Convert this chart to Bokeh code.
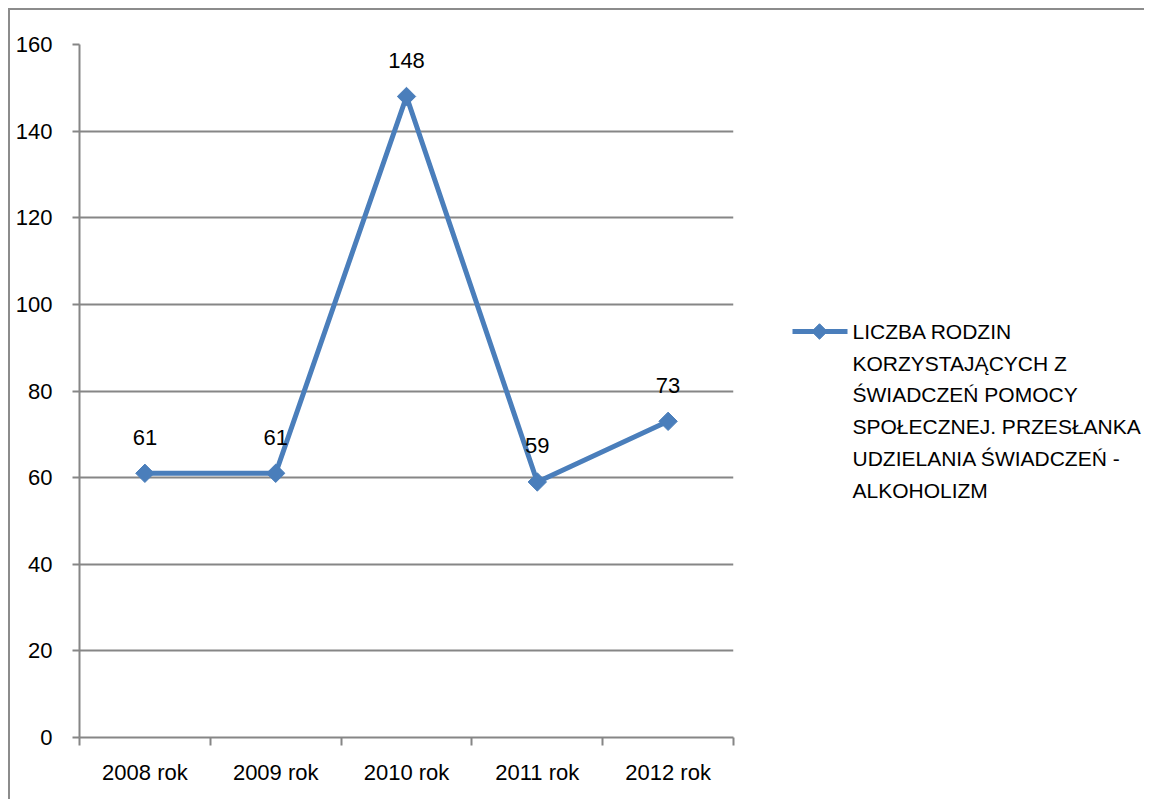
import numpy as np
from bokeh.plotting import figure
from bokeh.layouts import row
from bokeh.models import ColumnDataSource, FixedTicker, LabelSet, Range1d
from bokeh.core.properties import value
from bokeh.embed import file_html
from bokeh.resources import INLINE

years = ["2008 rok", "2009 rok", "2010 rok", "2011 rok", "2012 rok"]
families = [61, 61, 148, 59, 73]
y_ticks = [0, 20, 40, 60, 80, 100, 120, 140, 160]
series_lines = ["LICZBA RODZIN", "KORZYSTAJĄCYCH Z", "ŚWIADCZEŃ POMOCY",
                "SPOŁECZNEJ. PRZESŁANKA", "UDZIELANIA ŚWIADCZEŃ -", "ALKOHOLIZM"]

FONT = "Liberation Sans"
BLUE = "#4A7EBB"
GRAY = "#868686"
H = 789
TOP, BOTTOM = 34, 62

xpos = np.arange(len(years)) + 0.5
src = ColumnDataSource(dict(x=xpos, y=families, lbl=[str(v) for v in families]))

p = figure(width=725, height=H, output_backend="svg", toolbar_location=None,
           x_range=Range1d(0, len(years)), y_range=Range1d(0, 160),
           min_border_left=69, min_border_right=2, min_border_top=TOP, min_border_bottom=BOTTOM)
p.outline_line_color = None

p.xaxis.ticker = FixedTicker(ticks=list(xpos), minor_ticks=list(range(len(years) + 1)))
p.xaxis.major_label_overrides = {float(x): t for x, t in zip(xpos, years)}
p.xaxis.major_tick_in = 0
p.xaxis.major_tick_out = 0
p.xaxis.minor_tick_in = 0
p.xaxis.minor_tick_out = 8
p.xaxis.minor_tick_line_color = GRAY
p.xaxis.minor_tick_line_width = 2
p.xaxis.axis_line_color = GRAY
p.xaxis.axis_line_width = 2
p.xaxis.major_label_standoff = 14

p.yaxis.ticker = FixedTicker(ticks=y_ticks, minor_ticks=[])
p.yaxis.major_tick_in = 0
p.yaxis.major_tick_out = 7
p.yaxis.major_tick_line_color = GRAY
p.yaxis.major_tick_line_width = 2
p.yaxis.axis_line_color = GRAY
p.yaxis.axis_line_width = 2
p.yaxis.major_label_standoff = 20

for ax in (p.xaxis, p.yaxis):
    ax.major_label_text_font = FONT
    ax.major_label_text_font_size = "22px"
    ax.major_label_text_color = "black"

p.xgrid.visible = False
p.ygrid.ticker = FixedTicker(ticks=y_ticks)
p.ygrid.grid_line_color = GRAY
p.ygrid.grid_line_width = 2

p.line("x", "y", source=src, line_color=BLUE, line_width=5)
p.scatter("x", "y", source=src, marker="square", angle=np.pi / 4, size=13,
          fill_color=BLUE, line_color=BLUE)

p.add_layout(LabelSet(x="x", y="y", text="lbl", source=src, y_offset=36,
                      text_align="center", text_baseline="middle",
                      text_font=value(FONT), text_font_size="22px", text_color="black"))

# legend panel (canvas pixel coordinates, top-down)
LW = 1134 - 725
leg = figure(width=LW, height=H, output_backend="svg", toolbar_location=None,
             x_range=Range1d(0, LW), y_range=Range1d(H - BOTTOM, TOP),
             x_axis_type=None, y_axis_type=None,
             min_border_left=0, min_border_right=0, min_border_top=TOP, min_border_bottom=BOTTOM)
leg.outline_line_color = None
leg.xgrid.visible = False
leg.ygrid.visible = False

top_y, step = 321, 31.7
leg.line([57, 112], [top_y, top_y], line_color=BLUE, line_width=5)
leg.scatter([84], [top_y], marker="square", angle=np.pi / 4, size=11,
            fill_color=BLUE, line_color=BLUE)
leg.text(x=[117] * len(series_lines), y=[top_y + step * i for i in range(len(series_lines))],
         text=series_lines, text_font=value(FONT), text_font_size="21px",
         text_baseline="middle", text_align="left", text_color="black")

layout = row(p, leg, spacing=0)
layout.styles = {"margin-left": "8px", "margin-top": "8px",
                 "border-left": "2px solid #8c8c8c", "border-top": "2px solid #8c8c8c"}

open("out.html", "w").write(file_html(layout, INLINE))
